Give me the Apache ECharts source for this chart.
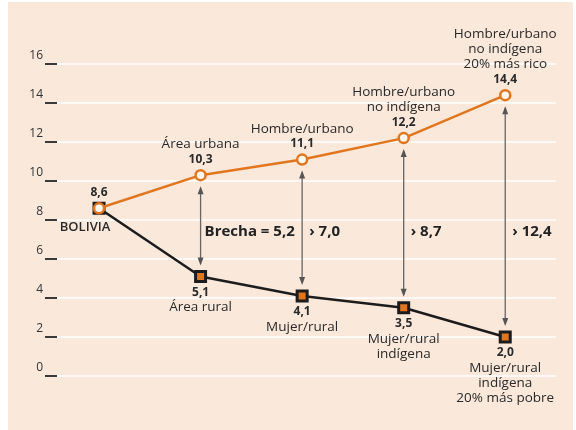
<!DOCTYPE html>
<html lang="es">
<head>
<meta charset="UTF-8">
<title>Brecha</title>
<script src="https://cdn.jsdelivr.net/npm/echarts@6/dist/echarts.min.js"></script>
<style>
  * { margin: 0; padding: 0; }
  body { background: #fff; }
  #chart { width: 576px; height: 430px; }
</style>
</head>
<body>
<div id="chart"></div>
<script>
// datos
const categories = ['BOLIVIA', 'Área urbana', 'Hombre/urbano', 'Hombre/urbano\nno indígena', 'Hombre/urbano\nno indígena\n20% más rico'];
const lowCategories = ['BOLIVIA', 'Área rural', 'Mujer/rural', 'Mujer/rural\nindígena', 'Mujer/rural\nindígena\n20% más pobre'];
const highValues = [8.6, 10.3, 11.1, 12.2, 14.4];
const lowValues = [8.6, 5.1, 4.1, 3.5, 2.0];
const yTicks = [0, 2, 4, 6, 8, 10, 12, 14, 16];

const ORANGE = '#e2761f';
const DARK = '#1c1c1c';
const BG = '#fae8da';
const FONT = '"Open Sans", "Noto Sans", sans-serif';

const fmt = v => v.toFixed(1).replace('.', ',');

const highData = highValues.map((v, i) => ({
  value: [i, v],
  label: {
    formatter: i === 0 ? '{v|' + fmt(v) + '}' : '{n|' + categories[i] + '}\n{v|' + fmt(v) + '}'
  }
}));

const lowData = lowValues.map((v, i) => {
  if (i === 0) {
    return { value: [i, v], label: { formatter: '{b|' + lowCategories[0] + '}', offset: [-14, 3] } };
  }
  return { value: [i, v], label: { formatter: '{v|' + fmt(v) + '}\n{n|' + lowCategories[i] + '}' } };
});

const gapData = highValues.slice(1).map((v, k) => [k + 1, v, lowValues[k + 1]]);

const richText = {
  n: { fontFamily: FONT, fontSize: 13.5, color: '#2a2a2a', lineHeight: 15, align: 'center' },
  v: { fontFamily: FONT, fontSize: 12, fontWeight: 'bold', color: '#2a2a2a', lineHeight: 15, align: 'center' },
  b: { fontFamily: FONT, fontSize: 13, fontWeight: 600, color: '#2a2a2a', lineHeight: 15 }
};

const chart = echarts.init(document.getElementById('chart'));

chart.setOption({
  animation: false,
  backgroundColor: '#fff',
  graphic: [{
    type: 'rect',
    z: -10,
    shape: { x: 8, y: 2, width: 565, height: 428 },
    style: { fill: BG }
  }],
  grid: { left: 57, right: 20, top: 64, bottom: 54 },
  xAxis: {
    type: 'value',
    min: -0.414,
    max: 4.5,
    axisLine: { show: false },
    axisTick: { show: false },
    axisLabel: { show: false },
    splitLine: { show: false }
  },
  yAxis: {
    type: 'value',
    min: yTicks[0],
    max: yTicks[yTicks.length - 1],
    interval: 2,
    axisLine: { show: false, onZero: false },
    axisTick: { show: true, length: 12, lineStyle: { color: '#3a3a3a', width: 2 } },
    axisLabel: {
      fontFamily: FONT, fontSize: 12, color: '#333',
      margin: 14, verticalAlign: 'bottom', padding: [0, 0, 2, 0]
    },
    splitLine: { show: true, lineStyle: { color: '#ffffff', width: 1.5 } }
  },
  series: [
    {
      type: 'line',
      data: lowData,
      z: 3,
      symbol: 'rect',
      symbolSize: 10,
      lineStyle: { color: DARK, width: 2.5 },
      itemStyle: { color: ORANGE, borderColor: DARK, borderWidth: 3 },
      label: { show: true, position: 'bottom', distance: 2, rich: richText }
    },
    {
      type: 'line',
      data: highData,
      z: 4,
      symbol: 'circle',
      symbolSize: 10,
      lineStyle: { color: ORANGE, width: 2.5 },
      itemStyle: { color: '#fff6ef', borderColor: ORANGE, borderWidth: 2.5 },
      label: { show: true, position: 'top', distance: 2, rich: richText }
    },
    {
      type: 'custom',
      z: 2,
      data: gapData,
      renderItem: function (params, api) {
        const top = api.coord([api.value(0), api.value(1)]);
        const bot = api.coord([api.value(0), api.value(2)]);
        const cx = top[0];
        const y1 = top[1] + 11;
        const y2 = bot[1] - 11;
        const gap = api.value(1) - api.value(2);
        const txt = (params.dataIndex === 0 ? 'Brecha = ' : '› ') + fmt(gap);
        return {
          type: 'group',
          children: [
            { type: 'line', shape: { x1: cx, y1: y1 + 2, x2: cx, y2: y2 - 2 }, style: { stroke: '#666', lineWidth: 1.3 } },
            { type: 'polygon', shape: { points: [[cx, y1], [cx - 3, y1 + 8], [cx + 3, y1 + 8]] }, style: { fill: '#555' } },
            { type: 'polygon', shape: { points: [[cx, y2], [cx - 3, y2 - 8], [cx + 3, y2 - 8]] }, style: { fill: '#555' } },
            {
              type: 'text',
              x: cx + (params.dataIndex === 0 ? 4 : 7),
              y: api.coord([0, 7.38])[1],
              style: { text: txt, font: 'bold 15px ' + FONT, fill: '#222', verticalAlign: 'middle', align: 'left' }
            }
          ]
        };
      }
    }
  ]
});
</script>
</body>
</html>
